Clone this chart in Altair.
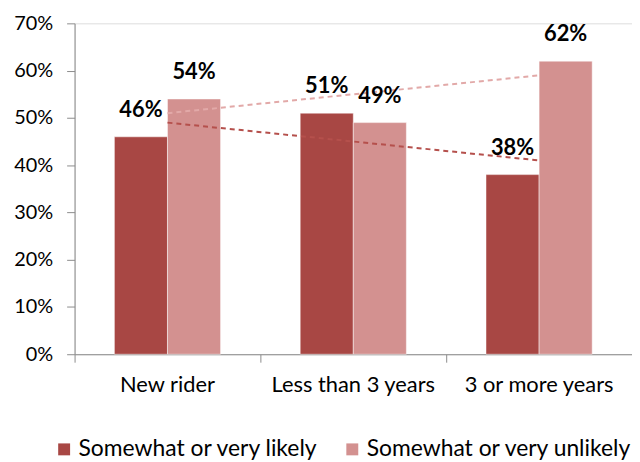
import altair as alt
import pandas as pd

categories = ["New rider", "Less than 3 years", "3 or more years"]
series = ["Somewhat or very likely", "Somewhat or very unlikely"]
likely = [46, 51, 38]
unlikely = [54, 49, 62]
colors = ["#A84744", "#D39190"]
trend_colors = ["#B5504C", "#E2A9A8"]

rows = []
for i, c in enumerate(categories):
    rows.append({"cat": c, "idx": i, "series": series[0], "value": likely[i] / 100})
    rows.append({"cat": c, "idx": i, "series": series[1], "value": unlikely[i] / 100})
df = pd.DataFrame(rows)

FONT = "Lato"

x_enc = alt.X("cat:N", sort=categories, title=None,
              scale=alt.Scale(paddingInner=0, paddingOuter=0),
              axis=alt.Axis(labelAngle=0, bandPosition=0, tickSize=8,
                            labelPadding=13, labelFontSize=22, labelFont=FONT,
                            labelColor="#000000", domainColor="#8C8C8C",
                            tickColor="#8C8C8C", labelBound=False,
                            labelOverlap=False))
y_scale = alt.Scale(domain=[0, 0.7], nice=False)

bars = alt.Chart(df).mark_bar(stroke="#FFFFFF", strokeWidth=0.8, strokeOpacity=0.6).encode(
    x=x_enc,
    xOffset=alt.XOffset("series:N", sort=series,
                        scale=alt.Scale(paddingOuter=0.75, paddingInner=0)),
    y=alt.Y("value:Q", scale=y_scale, title=None,
            axis=alt.Axis(format=".0%", values=[0, .1, .2, .3, .4, .5, .6, .7],
                          tickSize=8, labelPadding=14, labelFontSize=20,
                          labelFont=FONT, labelColor="#000000", grid=False,
                          domainColor="#8C8C8C", tickColor="#8C8C8C")),
    color=alt.Color("series:N", sort=series,
                    scale=alt.Scale(domain=series, range=colors),
                    legend=alt.Legend(title=None, orient="none", direction="horizontal",
                                      legendX=-22, legendY=417, symbolType="square",
                                      symbolSize=144, symbolStrokeWidth=0,
                                      labelFontSize=23, labelFont=FONT,
                                      labelColor="#000000", columnPadding=22,
                                      symbolOffset=0, labelOffset=3,
                                      labelLimit=400)),
)

labels = alt.Chart(df).mark_text(fontWeight="bold", fontSize=22, font=FONT,
                                 baseline="bottom", dy=-15, color="#000000").encode(
    x=alt.X("cat:N", sort=categories),
    xOffset=alt.XOffset("series:N", sort=series),
    y=alt.Y("value:Q", scale=y_scale),
    text=alt.Text("value:Q", format=".0%"),
)

trend = alt.Chart(df).transform_regression(
    "idx", "value", groupby=["series"], method="linear"
).transform_calculate(
    cat="['New rider','Less than 3 years','3 or more years'][round(datum.idx)]"
).mark_line(strokeDash=[5, 4], strokeWidth=2).encode(
    x=alt.X("cat:N", sort=categories),
    y=alt.Y("value:Q", scale=y_scale),
    stroke=alt.Stroke("series:N", sort=series,
                      scale=alt.Scale(domain=series, range=trend_colors), legend=None),
    detail="series:N",
)

chart = alt.layer(bars, trend, labels).properties(
    width=561, height=333,
    autosize=alt.AutoSizeParams(type="none"),
    padding={"left": 67, "top": 14, "right": 0, "bottom": 106},
).resolve_scale(stroke="independent").configure_view(stroke=None).configure(
    background="#FFFFFF"
)

chart.save("out.html", embed_options={"renderer": "svg", "actions": False})
